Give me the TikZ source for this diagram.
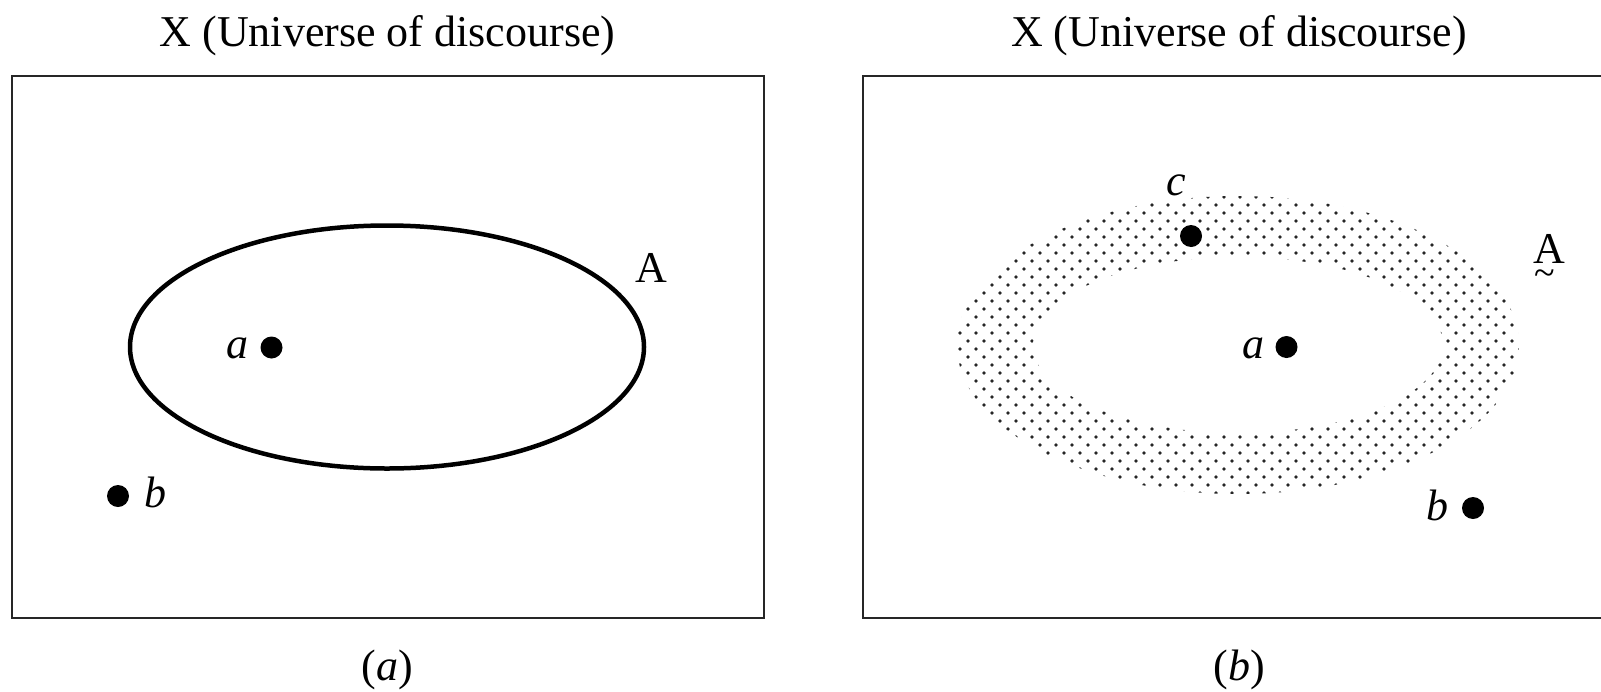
\documentclass[tikz,border=0pt]{standalone}
\usepackage{fontspec}
\setmainfont{Liberation Serif}
\begin{document}
\begin{tikzpicture}[x=1pt,y=-1pt,
  frame/.style={draw=black!85,line width=2pt},
  pt/.style={circle,fill=black,inner sep=0pt,minimum size=22pt},
  lbl/.style={anchor=base,inner sep=0pt,font=\fontsize{44}{52}\selectfont},
  ilbl/.style={lbl,font=\fontsize{44}{52}\selectfont\itshape},
  setline/.style={draw=black,line width=4.5pt}]
\useasboundingbox (0,0) rectangle (1601,691);
% left panel
\node[lbl] (t1) at (387.5,46) {X (Universe of discourse)};
\draw[frame] (12,76) rectangle (764,618);
\draw[setline] (387,347) ellipse [x radius=257, y radius=121.5];
\node[lbl] (A1) at (651,282) {A};
\node[pt] (a1) at (271.5,347.5) {};
\node[ilbl] (la1) at (237,358) {a};
\node[pt] (b1) at (118,496) {};
\node[ilbl] (lb1) at (155,507) {b};
\node[lbl] (cap1) at (387,680) {(\textit{a})};
% right panel
\node[lbl] (t2) at (1239,46) {X (Universe of discourse)};
\draw[frame] (863,76) rectangle (1620,618);
\begin{scope}[even odd rule]
  \clip (1238,345) ellipse [x radius=281, y radius=149]
        (1238,345) ellipse [x radius=205, y radius=88];
  \foreach \r in {0,...,40}{
    \pgfmathsetmacro\off{mod(\r,2)*8}
    \foreach \k in {0,...,37}{
      \fill[black!85] (944+16*\k+\off,189+8*\r) circle [radius=1.8];
    }
  }
\end{scope}
\node[lbl] (A2) at (1549,263) {A};
\node[lbl,font=\fontsize{38}{40}\selectfont] (tl) at (1545,285) {\textasciitilde};
\node[pt] (c2) at (1191,236) {};
\node[ilbl] (lc2) at (1176,195) {c};
\node[pt] (a2) at (1286.5,347) {};
\node[ilbl] (la2) at (1253,358) {a};
\node[pt] (b2) at (1473,508) {};
\node[ilbl] (lb2) at (1437.5,520) {b};
\node[lbl] (cap2) at (1239,680) {(\textit{b})};
\end{tikzpicture}
\end{document}
